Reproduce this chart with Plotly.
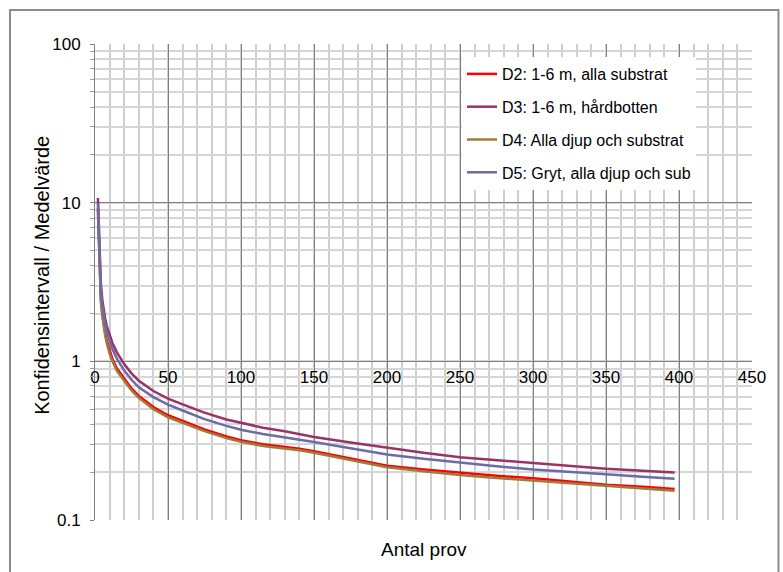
import plotly.graph_objects as go

# Antal prov (sample count) at which each curve was read
antal_prov = [2, 3, 4, 5, 6, 7, 8, 10, 12, 15, 20, 25, 30, 40, 50, 60, 75, 90, 100,
              115, 130, 140, 150, 175, 200, 225, 250, 275, 300, 325, 350, 375, 397]

# Konfidensintervall / Medelvärde per series
d2 = [9.3, 3.9, 2.5, 2.0, 1.7, 1.5, 1.36, 1.16, 1.03, 0.90, 0.775, 0.675, 0.605, 0.515, 0.457,
      0.420, 0.372, 0.336, 0.318, 0.300, 0.290, 0.281, 0.271, 0.244, 0.220, 0.208, 0.198,
      0.190, 0.183, 0.175, 0.167, 0.162, 0.157]
d3 = [10.7, 4.8, 3.1, 2.45, 2.1, 1.85, 1.68, 1.45, 1.30, 1.14, 0.96, 0.84, 0.755, 0.650, 0.582,
      0.535, 0.475, 0.430, 0.409, 0.382, 0.362, 0.347, 0.334, 0.308, 0.285, 0.265, 0.249,
      0.238, 0.229, 0.219, 0.210, 0.204, 0.199]
d4 = [9.0, 3.7, 2.4, 1.93, 1.64, 1.45, 1.31, 1.12, 1.00, 0.87, 0.755, 0.655, 0.588, 0.500, 0.444,
      0.408, 0.363, 0.328, 0.311, 0.293, 0.283, 0.275, 0.265, 0.238, 0.215, 0.203, 0.192,
      0.184, 0.177, 0.170, 0.163, 0.158, 0.153]
d5 = [9.9, 4.4, 2.85, 2.25, 1.92, 1.70, 1.54, 1.33, 1.19, 1.04, 0.875, 0.765, 0.685, 0.595, 0.533,
      0.490, 0.432, 0.392, 0.371, 0.348, 0.332, 0.320, 0.310, 0.283, 0.259, 0.243, 0.229,
      0.218, 0.208, 0.200, 0.194, 0.187, 0.182]

series_names = ["D2: 1-6 m, alla substrat", "D3: 1-6 m, hårdbotten",
                "D4: Alla djup och substrat", "D5: Gryt, alla djup och sub"]
series_values = [d2, d3, d4, d5]
series_colors = ["#FF0000", "#993366", "#9E7A3C", "#6B6BA8"]

y_tick_values = [0.1, 1, 10, 100]
y_tick_labels = ["0.1", "1", "10", "100"]
x_tick_values = [0, 50, 100, 150, 200, 250, 300, 350, 400, 450]
x_tick_labels = [str(v) for v in x_tick_values]

FONT = "Liberation Sans, Arial, sans-serif"

fig = go.Figure()
for name, vals, col in zip(series_names, series_values, series_colors):
    fig.add_trace(go.Scatter(
        x=antal_prov, y=vals, name=name, mode="lines",
        line=dict(color=col, width=2.5), legendgroup=name,
    ))

fig.update_layout(
    width=783, height=572,
    margin=dict(l=95, r=31, t=44, b=52),
    paper_bgcolor="white", plot_bgcolor="white",
    font=dict(family=FONT, color="black", size=16),
    showlegend=True,
    legend=dict(
        x=0.5586, y=0.9727, xanchor="left", yanchor="top",
        bgcolor="white", borderwidth=0,
        font=dict(family=FONT, size=16, color="black"),
        tracegroupgap=9,
    ),
    xaxis=dict(
        range=[0, 450], tickvals=x_tick_values, ticktext=x_tick_labels,
        anchor="free", position=1 / 3,
        showgrid=True, gridcolor="#808080", gridwidth=1,
        minor=dict(dtick=10, showgrid=True, gridcolor="#CFCFCF", gridwidth=1.5),
        showline=False, zeroline=False, ticks="",
        ticklabelstandoff=4,
        tickfont=dict(family=FONT, size=17, color="black"),
    ),
    yaxis=dict(
        type="log", range=[-1, 2],
        tickvals=y_tick_values, ticktext=y_tick_labels,
        showgrid=True, gridcolor="#808080", gridwidth=1,
        minor=dict(dtick="D1", showgrid=True, gridcolor="#D6D6D6", gridwidth=1.5,
                   ticks="outside", ticklen=4, tickcolor="#A0A0A0"),
        ticks="outside", ticklen=4, tickcolor="#808080",
        showline=True, linecolor="#808080", linewidth=1,
        zeroline=False, ticklabelstandoff=6,
        tickfont=dict(family=FONT, size=17, color="black"),
    ),
    annotations=[
        dict(text="Antal prov", xref="paper", yref="paper", x=0.5, y=-0.063,
             xanchor="center", yanchor="middle", showarrow=False,
             font=dict(family=FONT, size=19, color="black")),
        dict(text="Konfidensintervall / Medelvärde", xref="paper", yref="paper",
             x=-0.0807, y=0.515, textangle=-90, xanchor="center", yanchor="middle",
             showarrow=False, font=dict(family=FONT, size=20, color="black")),
    ],
    shapes=[
        # chart frame
        dict(type="rect", xref="paper", yref="paper",
             x0=-0.1294, x1=1.0403, y0=-0.13, y1=1.0714,
             line=dict(color="#8C8C8C", width=2), fillcolor="rgba(0,0,0,0)",
             layer="below"),
    ],
)

fig.write_html("out.html")
